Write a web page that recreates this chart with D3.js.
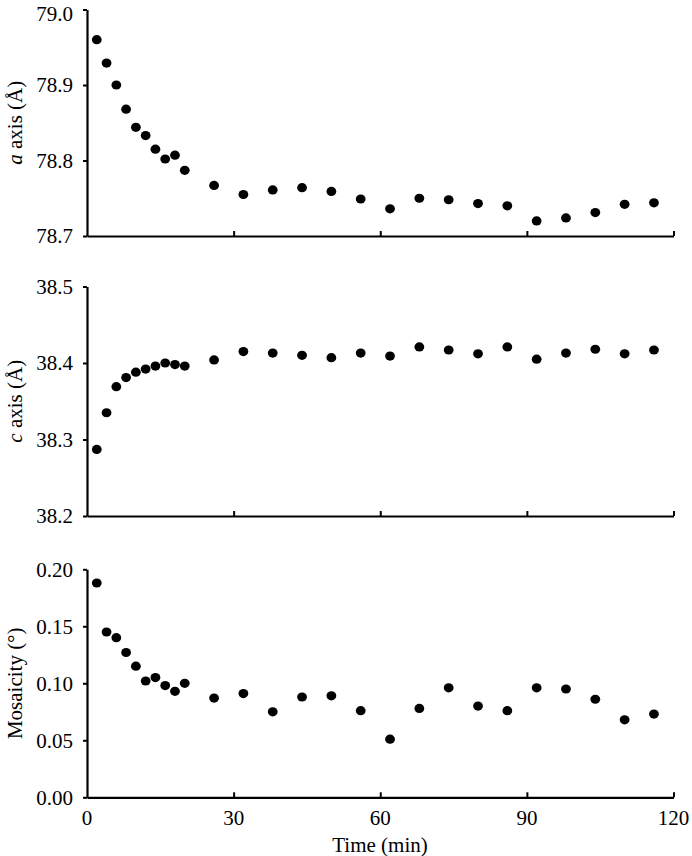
<!DOCTYPE html>
<html>

<head>
  <title>Lattice</title>
  <script src="https://cdn.jsdelivr.net/npm/d3@7"></script>
  <style>
    body { margin: 0; background: #fff; }
    text { font-family: "Liberation Serif", "Times New Roman", serif; fill: #000; }
  </style>
</head>

<body>
  <svg width="692" height="856" id="mainsvg"></svg>
  <script>
    // data
    const time = [2, 4, 6, 8, 10, 12, 14, 16, 18, 20, 26, 32, 38, 44, 50, 56, 62, 68, 74, 80, 86, 92, 98, 104, 110, 116];
    const aAxis = [78.960, 78.929, 78.900, 78.868, 78.844, 78.833, 78.815, 78.802, 78.807, 78.787, 78.767, 78.755,
      78.761, 78.764, 78.759, 78.749, 78.736, 78.750, 78.748, 78.743, 78.740, 78.720, 78.724, 78.731, 78.742, 78.744];
    const cAxis = [38.287, 38.335, 38.369, 38.381, 38.388, 38.392, 38.396, 38.400, 38.398, 38.396, 38.404, 38.415,
      38.413, 38.410, 38.407, 38.413, 38.409, 38.421, 38.417, 38.412, 38.421, 38.405, 38.413, 38.418, 38.412, 38.417];
    const mosaicity = [0.188, 0.145, 0.140, 0.127, 0.115, 0.102, 0.105, 0.098, 0.093, 0.100, 0.087, 0.091,
      0.075, 0.088, 0.089, 0.076, 0.051, 0.078, 0.096, 0.080, 0.076, 0.096, 0.095, 0.086, 0.068, 0.073];
    const xTicks = [0, 30, 60, 90, 120];
    const aTicks = [78.7, 78.8, 78.9, 79.0];
    const cTicks = [38.2, 38.3, 38.4, 38.5];
    const mTicks = [0, 0.05, 0.10, 0.15, 0.20];

    const svg = d3.select('#mainsvg');
    const x = d3.scaleLinear().domain([0, 120]).range([87, 673.5]);

    const panels = [
      { values: aAxis, ticks: aTicks, domain: [78.7, 79.0], range: [236, 9.5], fmt: d3.format('.1f'), title: ['a', ' axis (Å)'] },
      { values: cAxis, ticks: cTicks, domain: [38.2, 38.5], range: [516, 286.5], fmt: d3.format('.1f'), title: ['c', ' axis (Å)'] },
      { values: mosaicity, ticks: mTicks, domain: [0, 0.2], range: [797.3, 569.3], fmt: d3.format('.2f'), title: [null, 'Mosaicity (°)'] }
    ];

    panels.forEach((p, i) => {
      const y = d3.scaleLinear().domain(p.domain).range(p.range);
      const g = svg.append('g');

      // y axis
      const ya = g.append('g')
        .attr('transform', `translate(${x(0)},0)`)
        .call(d3.axisLeft(y).tickValues(p.ticks).tickFormat(p.fmt).tickSize(4).tickSizeOuter(0).tickPadding(10));
      ya.select('.domain').attr('stroke-width', 2.2);
      ya.selectAll('.tick line').attr('stroke-width', 2);
      ya.selectAll('.tick text').attr('font-size', 21).style('font-family', '"Liberation Serif", serif');
      // keep the topmost label inside the page
      if (i === 0) ya.selectAll('.tick').filter(d => d === 79.0).select('text').attr('dy', '0.5em');

      // x axis, ticks pointing inward
      const xa = g.append('g')
        .attr('transform', `translate(0,${p.range[0]})`)
        .call(d3.axisTop(x).tickValues(xTicks).tickSize(5).tickSizeOuter(0).tickFormat(''));
      xa.select('.domain').attr('stroke-width', 2.2);
      xa.selectAll('.tick line').attr('stroke-width', 2);
      xa.selectAll('.tick').filter(d => d === 0).select('line').remove();

      if (i === 2) {
        g.append('g').selectAll('text').data(xTicks).join('text')
          .attr('x', d => x(d))
          .attr('y', p.range[0] + 28)
          .attr('text-anchor', 'middle')
          .attr('font-size', 21)
          .text(d => d);
        g.append('text')
          .attr('x', 380)
          .attr('y', 852)
          .attr('text-anchor', 'middle')
          .attr('font-size', 21)
          .text('Time (min)');
      }

      // y title
      const cy = (p.range[0] + p.range[1]) / 2;
      const t = g.append('text')
        .attr('transform', `translate(22,${cy}) rotate(-90)`)
        .attr('text-anchor', 'middle')
        .attr('font-size', 21);
      if (p.title[0]) t.append('tspan').attr('font-style', 'italic').text(p.title[0]);
      t.append('tspan').text(p.title[1]);

      // points
      g.append('g').selectAll('ellipse').data(time).join('ellipse')
        .attr('cx', d => x(d))
        .attr('cy', (d, j) => y(p.values[j]))
        .attr('rx', 4.9)
        .attr('ry', 4.6)
        .attr('fill', '#000');
    });
  </script>
</body>

</html>
